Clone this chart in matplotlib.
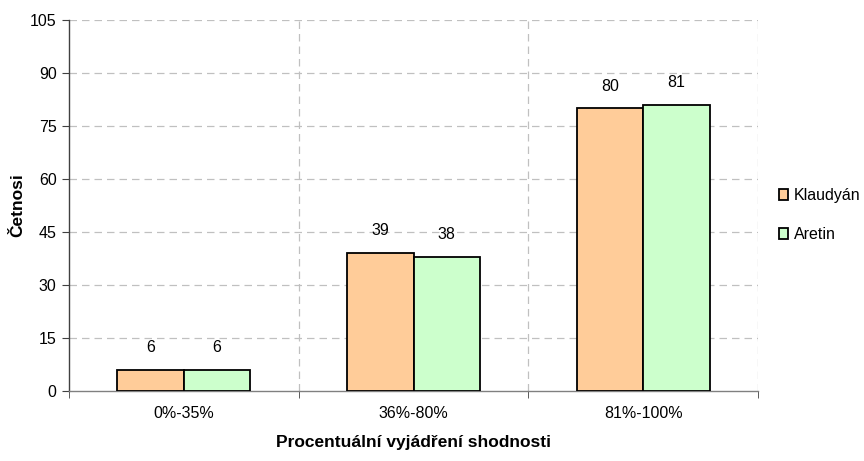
import matplotlib
matplotlib.use("Agg")
import matplotlib.pyplot as plt
import numpy as np

plt.rcParams['font.family'] = ['Liberation Sans', 'DejaVu Sans']

categories = ["0%-35%", "36%-80%", "81%-100%"]
series_names = ["Klaudyán", "Aretin"]
klaudyan = [6, 39, 80]
aretin = [6, 38, 81]
colors = ["#FFCC99", "#CCFFCC"]
y_ticks = [0, 15, 30, 45, 60, 75, 90, 105]

fig = plt.figure(figsize=(8.64, 4.61), dpi=100)
ax = fig.add_axes([69 / 864, 70 / 461, 689 / 864, 371 / 461])

x = np.arange(len(categories))
width = 0.29
for i, (vals, name, col) in enumerate(zip([klaudyan, aretin], series_names, colors)):
    pos = x + (i - 0.5) * width
    ax.bar(pos, vals, width=width, color=col, edgecolor="black",
           linewidth=1.3, label=name, zorder=3)
    for xi, v in zip(pos, vals):
        ax.annotate(str(v), (xi, v), xytext=(0, 16), textcoords="offset points",
                    ha="center", va="center", fontsize=11.5, zorder=4)

ax.set_xlim(-0.5, len(categories) - 0.5)
ax.set_ylim(0, 105)
ax.set_yticks(y_ticks)
ax.set_xticks(x)
ax.set_xticklabels(categories, fontsize=11.5)
ax.set_xticks(np.arange(-0.5, len(categories)), minor=True)
ax.tick_params(axis="x", which="major", length=0, pad=11)
ax.tick_params(axis="x", which="minor", length=5, direction="out", color="#404040")
ax.tick_params(axis="y", length=5, direction="out", labelsize=11.5, color="#404040", pad=4)

grid_kw = dict(color="#c0c0c0", linewidth=0.9, dashes=(6, 4), zorder=0)
for yv in y_ticks[1:]:
    ax.axhline(yv, **grid_kw)
for xv in np.arange(0.5, len(categories) + 0.5):
    ax.axvline(xv, **grid_kw)

for s in ["top", "right"]:
    ax.spines[s].set_visible(False)
ax.spines["left"].set_color("#404040")
ax.spines["bottom"].set_color("#808080")
ax.spines["left"].set_linewidth(1.0)
ax.spines["bottom"].set_linewidth(1.0)

ax.set_ylabel("Četnosi", fontsize=12.5, fontweight="bold", labelpad=3)
ax.set_xlabel("Procentuální vyjádření shodnosti", fontsize=12.5, fontweight="bold", labelpad=10)

ax.legend(loc="center left", bbox_to_anchor=(1.009, 0.474), frameon=False,
          fontsize=11.5, handlelength=0.6, handleheight=0.6, handletextpad=0.35,
          labelspacing=1.5)

fig.savefig("out.png", dpi=100)
